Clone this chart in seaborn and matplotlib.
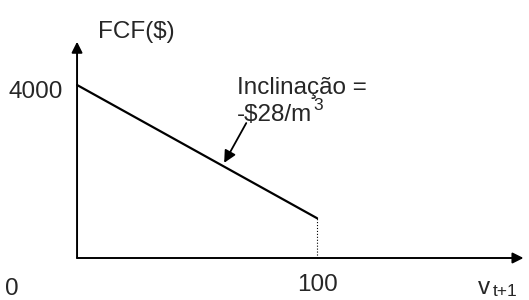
import matplotlib
matplotlib.use("Agg")
import matplotlib.pyplot as plt
import seaborn as sns
import pandas as pd

# =====================================================
# DATA
# =====================================================

volumes = [0, 100]
fcf_values = [4000, 920]
y_tick_label = "4000"
x_tick_labels = ["0", "100"]

df = pd.DataFrame({"v": volumes, "fcf": fcf_values})

# =====================================================
# STYLE
# =====================================================

sns.set_theme(style="white")
plt.rcParams["font.family"] = ["Liberation Sans", "DejaVu Sans"]

fig = plt.figure(figsize=(5.29, 3.0), dpi=100)
ax = fig.add_axes([0, 0, 1, 1])

# pixel -> data mapping: x=0 at px 77, x=100 at px 317; y=0 at px 258, y=4000 at px 85
ax.set_xlim(-32.1, 188.3)
ax.set_ylim(-971, 5965)
ax.axis("off")

# =====================================================
# AXES ARROWS
# =====================================================

ax.annotate("", xy=(0, 5000), xytext=(0, 0),
            arrowprops=dict(arrowstyle="-|>", color="black", lw=1.4,
                            mutation_scale=16, shrinkA=0, shrinkB=0))
ax.annotate("", xy=(186, 0), xytext=(0, 0),
            arrowprops=dict(arrowstyle="-|>", color="black", lw=1.4,
                            mutation_scale=16, shrinkA=0, shrinkB=0))

# =====================================================
# LINE
# =====================================================

sns.lineplot(data=df, x="v", y="fcf", color="black", linewidth=1.6, ax=ax)
ax.plot([volumes[-1], volumes[-1]], [0, fcf_values[-1]],
        color="black", linestyle=":", linewidth=0.8)

# =====================================================
# LABELS
# =====================================================

fs = 17.5
sub = 12.5
ax.text(8.75, 5225, "FCF(\\$)", fontsize=fs, va="center", ha="left")
ax.text(-5.8, 3838, y_tick_label, fontsize=fs, va="center", ha="right")
ax.text(-27, -720, x_tick_labels[0], fontsize=fs, va="center", ha="center")
ax.text(100, -624, x_tick_labels[1], fontsize=fs, va="center", ha="center")
ax.text(167, -690, "v", fontsize=fs, va="center", ha="left")
ax.text(173.3, -780, "t+1", fontsize=sub, va="center", ha="left")

ax.text(66.7, 3931, "Inclinação =", fontsize=fs, va="center", ha="left")
ax.text(66.7, 3306, "-\\$28/m", fontsize=fs, va="center", ha="left")
ax.text(98.3, 3520, "3", fontsize=sub, va="center", ha="left")

ax.annotate("", xy=(61.3, 2200), xytext=(70.5, 3120),
            arrowprops=dict(arrowstyle="-|>", color="black", lw=1.3,
                            mutation_scale=18, shrinkA=0, shrinkB=0))

plt.savefig("out.png", dpi=100)
plt.close()
